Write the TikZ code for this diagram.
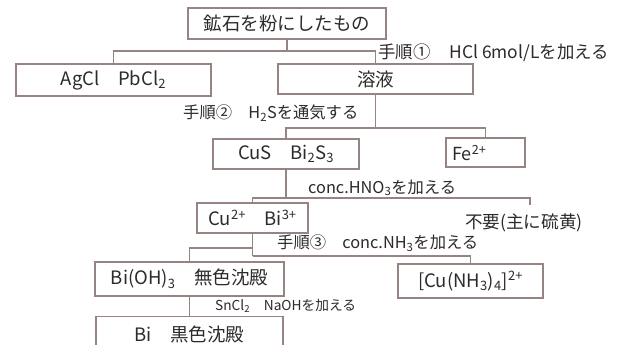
\documentclass[tikz,border=0pt]{standalone}
\usepackage{fontspec}
\setmainfont{Noto Sans CJK JP}
\definecolor{linec}{RGB}{150,132,130}
\definecolor{txtc}{RGB}{45,42,42}
\begin{document}
\begin{tikzpicture}[x=1pt,y=-1pt,
  box/.style={draw=linec,line width=1.3pt,inner sep=0pt,text=txtc,font=\fontsize{18.5}{18.5}\selectfont},
  lab/.style={inner sep=0pt,text=txtc,font=\fontsize{16.3}{16.3}\selectfont},
  conn/.style={draw=linec,line width=1.2pt}]
\useasboundingbox[fill=white] (0,0) rectangle (633,345);
% boxes
\node[box,minimum width=198pt,minimum height=31pt] (ore) at (287,23.5) {鉱石を粉にしたもの};
\node[box,minimum width=195pt,minimum height=32pt] (agcl) at (113.5,80) {AgCl　PbCl\textsubscript{2}};
\node[box,minimum width=195pt,minimum height=30pt] (soln) at (375.5,79) {溶液};
\node[box,minimum width=146pt,minimum height=30pt] (cus) at (286,154) {CuS　Bi\textsubscript{2}S\textsubscript{3}};
\node[box,minimum width=79pt,minimum height=29pt] (fe) at (485.5,152.5) {};
\node[lab,font=\fontsize{18}{18}\selectfont,anchor=west] (fetxt) at (452,153) {Fe\textsuperscript{2+}};
\node[box,minimum width=111pt,minimum height=30pt] (cubi) at (252.5,218) {Cu\textsuperscript{2+}　Bi\textsuperscript{3+}};
\node[box,minimum width=189pt,minimum height=34pt] (bioh) at (189.5,279) {Bi(OH)\textsubscript{3}　無色沈殿};
\node[box,minimum width=145pt,minimum height=34pt] (cunh) at (470.5,281) {[Cu(NH\textsubscript{3})\textsubscript{4}]\textsuperscript{2+}};
\node[box,minimum width=187pt,minimum height=36pt,anchor=north] (bi) at (189.5,316) {Bi　黒色沈殿};
% free text
\node[lab,font=\fontsize{17.6}{17.6}\selectfont,anchor=west] (fuyo) at (465,223) {不要(主に硫黄)};
% labels
\node[lab,font=\fontsize{17.4}{17.4}\selectfont,anchor=west] (l1) at (378,53) {手順①\hspace{1.1em}HCl 6mol/Lを加える};
\node[lab,anchor=west] (l2) at (183,113) {手順②　H\textsubscript{2}Sを通気する};
\node[lab,anchor=west] (l3) at (308,188) {conc.HNO\textsubscript{3}を加える};
\node[lab,anchor=west] (l4) at (277,243) {手順③　conc.NH\textsubscript{3}を加える};
\node[lab,font=\fontsize{13.7}{13.7}\selectfont,anchor=west] (l5) at (215,306) {SnCl\textsubscript{2}　NaOHを加える};
% junction rows
\coordinate (h1) at (0,51);
\coordinate (h2) at (0,128);
\coordinate (h3) at (0,198);
\coordinate (h4a) at (0,248);
\coordinate (h4b) at (0,256);
\coordinate (waste) at (530,205);
% connectors
\draw[conn] (ore.south) -- (ore.south |- h1);
\draw[conn] (agcl.north) -- (agcl.north |- h1) -- (soln.north |- h1) -- (soln.north);
\draw[conn] (soln.south) -- (soln.south |- h2);
\draw[conn] (cus.north) -- (cus.north |- h2) -- (fe.north |- h2) -- (fe.north);
\draw[conn] (cus.south) -- (cus.south |- h3);
\draw[conn] (cubi.north) -- (cubi.north |- h3) -- (waste |- h3) -- (waste);
\draw[conn] (cubi.south) -- (cubi.south |- h4b);
\draw[conn] (cubi.south |- h4a) -- (bioh.north |- h4a) -- (bioh.north);
\draw[conn] (cubi.south |- h4b) -- (cunh.north |- h4b) -- (cunh.north);
\draw[conn] (bioh.south) -- (bi.north);
\end{tikzpicture}
\end{document}
